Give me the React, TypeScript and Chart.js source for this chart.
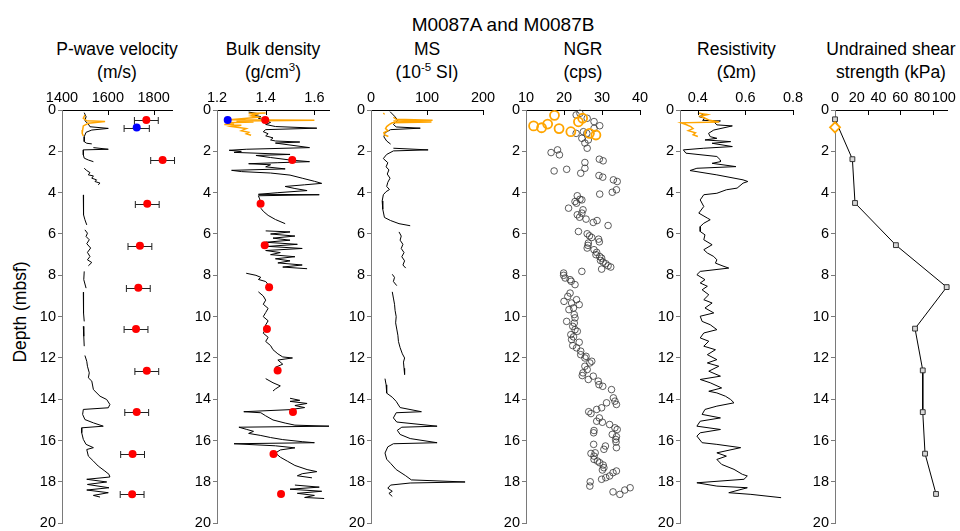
import React, { useEffect, useRef } from 'react';
import { Chart, registerables } from 'chart.js';
Chart.register(...registerables);

const FONT = '"Liberation Sans", Arial, Helvetica, sans-serif';
const ORANGE = '#FFA500';

// ---------- depth axis ----------
const depthTicks = [0, 2, 4, 6, 8, 10, 12, 14, 16, 18, 20];

// ---------- P-wave velocity ----------
const pwaveTicks = [1400, 1600, 1800];
const pwaveMarks = [1600, 1800];
const pwaveDepth = [0.13, 0.32, 0.52, 0.68, 0.81, 0.89, 0.97, 1.08, 1.29, 1.53, 1.61, 1.64, 1.7, 1.82, 1.9, 1.93, 2.17, 2.33, 2.42, 2.5, 2.6, 2.82, 2.93, 3.03, 3.14, 3.19, 3.3, 3.38, 3.46, 3.54, 3.62, 3.8, 4.11, 4.67, 5.07, 5.31, 5.56, 5.7, 5.8, 5.96, 6.12, 6.28, 6.47, 6.68, 6.89, 7.09, 7.25, 7.38, 7.54, 7.7, 7.81, 8.21, 8.62, 8.7, 8.82, 9.34, 9.82, 10.23, 10.35, 10.47, 10.95, 11.43, 11.6, 11.88, 12.16, 12.4, 12.72, 12.96, 13.12, 13.53, 13.85, 14.01, 14.25, 14.41, 14.49, 14.73, 14.98, 15.14, 15.3, 15.38, 15.62, 15.94, 16.18, 16.34, 16.43, 16.75, 16.99, 17.23, 17.47, 17.63, 17.76, 17.87, 18.0, 18.12, 18.28, 18.39, 18.52, 18.65, 18.73];
const pwaveLog = [1497, 1505, 1500, 1515, 1522, 1602, 1530, 1505, 1497, 1497, 1508, 1530, null, 1537, 1602, 1493, 1493, 1497, 1515, 1537, null, 1497, 1508, 1522, 1515, 1537, 1530, 1551, 1544, 1566, 1558, null, 1493, 1493, 1495, 1500, 1508, null, 1500, 1511, 1505, 1519, 1508, 1525, 1511, 1522, 1511, 1530, 1515, null, 1497, 1495, 1505, null, 1493, 1493, 1495, 1497, null, 1493, 1495, 1497, null, 1500, 1508, 1511, 1519, 1515, 1530, 1537, 1566, 1595, 1609, 1602, 1493, 1490, 1500, 1537, 1580, 1486, 1486, 1493, 1505, 1537, 1508, 1515, 1537, 1558, 1587, 1605, 1609, 1508, 1595, 1511, 1605, 1508, 1602, 1537, 1566];
const pwaveTopDepth = [0.24, 0.4, 0.52, 0.56, 0.64, 0.77, 0.97, 1.13, 1.26];
const pwaveTop = [1500, 1493, 1508, 1588, 1515, 1493, 1490, 1488, 1493];
const sampleDepthP = [0.48, 2.42, 4.54, 6.57, 8.6, 10.6, 12.62, 14.62, 16.65, 18.6];
const pwaveSample = [1768, 1839, 1772, 1740, 1733, 1723, 1770, 1726, 1708, 1706];
const pwaveSampleErr = [52, 52, 52, 52, 52, 52, 52, 52, 52, 52];
const pwaveBlueDepth = [0.85];
const pwaveBlue = [1726];
const pwaveBlueErr = [55];

// ---------- Bulk density ----------
const densTicks = [1.2, 1.4, 1.6];
const densMarks = [1.4, 1.6];
const densDepth = [0.1, 0.18, 0.25, 0.32, 0.4, 0.5, 0.6, 0.7, 0.8, 0.88, 0.95, 1.05, 1.15, 1.25, 1.35, 1.45, 1.5, 1.55, 1.6, 1.82, 1.9, 1.95, 2.0, 2.05, 2.15, 2.2, 2.3, 2.42, 2.5, 2.55, 2.6, 2.65, 2.75, 2.85, 2.92, 2.98, 3.05, 3.15, 3.3, 3.45, 3.55, 3.62, 3.7, 3.8, 3.9, 4.0, 4.08, 4.1, 4.15, 4.3, 4.5, 4.6, 4.75, 4.9, 5.1, 5.3, 5.5, 5.7, 5.85, 5.9, 6.0, 6.1, 6.2, 6.3, 6.4, 6.5, 6.6, 6.7, 6.8, 6.9, 7.0, 7.1, 7.2, 7.3, 7.4, 7.5, 7.6, 7.68, 7.8, 7.9, 8.0, 8.1, 8.2, 8.3, 8.45, 8.6, 8.7, 8.8, 9.0, 9.2, 9.4, 9.6, 9.8, 10.0, 10.2, 10.4, 10.6, 10.8, 11.0, 11.2, 11.4, 11.6, 11.8, 11.95, 12.0, 12.1, 12.3, 12.45, 12.6, 12.75, 12.9, 13.0, 13.2, 13.35, 13.5, 13.6, 13.8, 13.95, 14.05, 14.1, 14.2, 14.3, 14.4, 14.5, 14.6, 14.65, 14.8, 15.0, 15.15, 15.25, 15.3, 15.35, 15.45, 15.55, 15.65, 15.75, 15.85, 15.95, 16.05, 16.1, 16.15, 16.25, 16.35, 16.45, 16.6, 16.8, 17.0, 17.2, 17.4, 17.5, 17.6, 17.7, 17.8, 18.0, 18.15, 18.25, 18.35, 18.45, 18.55, 18.65, 18.75, 18.8];
const densLog = [1.33, 1.37, 1.35, 1.38, 1.37, 1.40, 1.42, 1.40, 1.44, 1.61, 1.40, 1.39, 1.41, 1.40, 1.43, 1.42, 1.44, 1.54, 1.44, 1.58, 1.32, 1.25, 1.30, 1.27, 1.50, 1.36, 1.42, 1.50, 1.58, 1.45, 1.33, 1.42, 1.40, 1.48, 1.26, 1.30, 1.42, 1.50, 1.55, 1.60, 1.63, 1.56, 1.48, 1.52, 1.57, 1.45, 1.37, 1.62, 1.37, 1.375, 1.38, null, 1.38, 1.39, 1.41, 1.44, 1.48, null, 1.40, 1.50, 1.42, 1.52, 1.43, 1.50, 1.40, 1.53, 1.41, 1.55, 1.40, 1.46, 1.42, 1.52, 1.44, 1.50, 1.45, 1.55, 1.47, 1.57, null, 1.32, 1.36, 1.38, 1.37, 1.40, 1.41, 1.42, null, 1.37, 1.39, 1.40, 1.39, 1.41, 1.40, 1.39, 1.41, 1.40, 1.40, 1.39, 1.41, 1.40, 1.42, 1.43, 1.45, 1.47, 1.51, 1.45, 1.47, 1.44, 1.46, 1.45, null, 1.40, 1.43, 1.46, 1.44, 1.43, null, 1.50, 1.54, 1.50, 1.57, 1.52, 1.56, 1.50, 1.31, 1.38, 1.40, 1.43, 1.48, 1.52, 1.66, 1.29, 1.32, 1.35, 1.33, 1.38, 1.42, 1.47, 1.55, 1.60, 1.27, 1.44, 1.52, 1.46, 1.44, 1.46, 1.49, 1.52, 1.57, 1.61, 1.55, 1.53, 1.59, null, 1.52, 1.62, 1.50, 1.63, 1.53, 1.60, 1.56, 1.64];
const densTopDepth = [0.15, 0.17, 0.22, 0.28, 0.35, 0.42, 0.47, 0.5, 0.53, 0.58, 0.62, 0.66, 0.7, 0.74, 0.8, 0.9, 1.0, 1.08, 1.15, 1.22];
const densTop = [1.40, 1.33, 1.36, 1.34, 1.37, 1.30, 1.25, 1.60, 1.28, 1.35, 1.24, 1.27, 1.23, 1.30, 1.26, 1.32, 1.30, 1.33, 1.32, 1.34];
const sampleDepthD = [0.48, 2.42, 4.54, 6.55, 8.58, 10.6, 12.6, 14.62, 16.65, 18.58];
const densSample = [1.398, 1.509, 1.379, 1.396, 1.414, 1.405, 1.449, 1.512, 1.432, 1.463];
const densBlueDepth = [0.48];
const densBlue = [1.244];

// ---------- MS ----------
const msTicks = [0, 100, 200];
const msMarks = [100, 200];
const msDepth = [0.08, 0.3, 0.5, 0.7, 0.82, 0.88, 0.95, 1.1, 1.3, 1.5, 1.65, 1.75, 1.85, 1.93, 1.98, 2.15, 2.35, 2.55, 2.75, 2.9, 3.1, 3.3, 3.5, 3.7, 3.85, 3.95, 4.1, 4.4, 4.8, 5.2, 5.35, 5.5, 5.6, 5.7, 5.9, 6.1, 6.3, 6.5, 6.7, 6.9, 7.1, 7.3, 7.5, 7.65, 7.75, 7.95, 8.1, 8.3, 8.5, 8.6, 8.8, 9.1, 9.4, 9.7, 10.0, 10.3, 10.6, 10.9, 11.2, 11.5, 11.8, 12.0, 12.2, 12.5, 12.8, 12.9, 13.0, 13.3, 13.7, 13.9, 14.1, 14.4, 14.6, 14.65, 14.9, 15.1, 15.3, 15.35, 15.5, 15.7, 15.9, 16.1, 16.15, 16.3, 16.6, 16.9, 17.1, 17.4, 17.7, 17.9, 18.0, 18.05, 18.15, 18.3, 18.45, 18.55, 18.7];
const msLog = [34, 42, 48, 40, 45, 88, 35, 25, 23, 28, 35, null, 40, 102, 40, 28, 22, 30, 27, 32, 29, 34, 30, 28, 33, 27, 22, 20, 21, 24, 35, 50, 70, null, 50, 54, 52, 57, 54, 59, 55, 60, 57, 62, null, 38, 42, 40, 46, null, 38, 40, 42, 43, 45, 44, 46, 48, 49, 52, 56, 60, 58, 59, 60, null, 25, 27, 28, 38, 45, 52, 90, 45, 40, 46, 118, 55, 47, 52, 70, 118, 40, 30, 25, 28, 35, 45, 62, 72, 168, 70, 35, 30, 38, 32, 38];
const msTopDepth = [0.15, 0.17, 0.25, 0.35, 0.45, 0.5, 0.53, 0.58, 0.62, 0.7, 0.8, 0.9, 1.0, 1.1, 1.2, 1.28];
const msTop = [22, 23, null, 40, 45, 110, 40, 108, 38, 33, 28, 26, 30, 23, 24, 31];

// ---------- NGR ----------
const ngrTicks = [10, 20, 30, 40];
const ngrMarks = [20, 30, 40];
const ngrDepth = [0.24, 0.16, 0.4, 0.56, 0.76, 1.13, 1.37, 1.13, 0.89, 1.05, 1.6, 1.85, 1.45, 2.06, 1.93, 2.17, 2.38, 2.46, 2.54, 2.82, 2.95, 2.87, 3.06, 3.17, 3.25, 3.38, 3.46, 3.86, 3.98, 4.07, 4.15, 4.32, 4.35, 4.43, 4.51, 4.75, 4.83, 4.99, 5.07, 5.19, 5.28, 5.44, 5.35, 5.59, 5.88, 5.99, 6.09, 6.17, 6.25, 6.38, 6.44, 6.55, 6.68, 6.76, 6.89, 7.0, 7.09, 7.17, 7.28, 7.36, 7.44, 7.54, 7.6, 7.7, 7.81, 7.89, 8.0, 8.13, 8.21, 8.29, 8.45, 8.86, 9.02, 9.26, 9.34, 9.18, 9.42, 9.58, 9.66, 9.9, 10.06, 10.23, 10.31, 10.47, 10.63, 10.71, 10.87, 10.98, 11.11, 11.24, 11.4, 11.51, 11.67, 11.84, 11.92, 12.0, 12.16, 12.24, 12.4, 12.56, 12.72, 12.85, 13.04, 12.88, 13.12, 13.29, 13.37, 13.53, 13.93, 14.17, 14.41, 14.49, 14.09, 14.25, 14.6, 14.69, 14.9, 15.06, 15.11, 15.22, 15.38, 15.46, 15.51, 15.62, 15.7, 15.81, 15.94, 16.07, 16.34, 16.26, 16.42, 16.18, 16.62, 16.59, 16.75, 16.91, 16.99, 17.07, 17.18, 17.31, 17.42, 17.71, 17.55, 17.47, 17.79, 17.87, 17.99, 18.2, 18.48, 18.6, 18.39, 18.28];
const ngrVal = [23.2, 24.2, 26.1, 27.9, 29.4, 23.2, 24.7, 26.0, 27.9, 25.1, 25.5, 26.1, 26.4, 16.6, 18.3, 18.8, 29.3, 30.3, 25.5, 25.5, 17.4, 20.7, 24.4, 29.2, 30.2, 33.0, 34.0, 33.8, 32.7, 29.4, 23.5, 24.2, 24.7, 22.9, 23.3, 21.2, 25.0, 24.7, 23.5, 24.1, 25.8, 27.7, 28.7, 31.6, 23.8, 26.1, 26.7, 27.3, 29.1, 29.3, 26.4, 26.3, 26.1, 27.9, 28.6, 28.4, 29.4, 29.9, 29.6, 30.3, 31.0, 31.6, 32.3, 29.9, 24.7, 19.9, 19.9, 20.3, 21.6, 21.9, 22.9, 21.6, 21.0, 20.0, 22.0, 23.3, 24.0, 22.5, 21.3, 22.7, 22.9, 20.7, 22.7, 22.3, 22.9, 23.5, 21.8, 22.5, 22.0, 24.0, 22.3, 23.3, 24.4, 24.4, 25.8, 25.5, 27.3, 26.8, 25.5, 26.1, 25.0, 24.8, 26.4, 27.7, 29.0, 29.2, 30.2, 32.5, 33.0, 31.2, 29.9, 28.6, 33.4, 33.8, 26.5, 27.1, 29.3, 28.6, 30.1, 32.0, 33.4, 34.0, 27.9, 27.8, 32.7, 33.8, 33.6, 33.7, 33.8, 30.9, 30.5, 27.8, 27.1, 28.2, 27.9, 27.9, 28.8, 29.4, 30.3, 30.5, 30.1, 32.0, 32.9, 33.8, 31.0, 29.9, 26.9, 26.8, 32.9, 34.7, 36.0, 37.4];
const ngrTopDepth = [0.77, 0.86, 0.68, 0.26, 0.9, 1.05, 0.57, 0.4, 1.13, 1.21];
const ngrTop = [12.0, 14.1, 15.7, 17.5, 18.7, 21.8, 23.8, 24.9, 26.7, 28.4];

// ---------- Resistivity ----------
const resTicks = [0.4, 0.6, 0.8];
const resMarks = [0.4, 0.6, 0.8];
const resDepth = [0.16, 0.24, 0.32, 0.4, 0.5, 0.53, 0.6, 0.72, 0.77, 0.97, 1.13, 1.29, 1.37, 1.45, 1.53, 1.61, 1.77, 1.85, 1.93, 2.09, 2.25, 2.42, 2.5, 2.58, 2.74, 2.82, 2.93, 3.14, 3.38, 3.46, 3.54, 3.78, 3.86, 4.03, 4.1, 4.35, 4.67, 4.99, 5.23, 5.31, 5.48, 5.64, 5.88, 6.04, 6.28, 6.52, 6.76, 6.92, 7.09, 7.25, 7.41, 7.57, 7.65, 7.81, 7.97, 8.21, 8.37, 8.53, 8.7, 8.94, 9.18, 9.34, 9.58, 9.82, 9.98, 10.23, 10.39, 10.63, 10.79, 11.03, 11.19, 11.43, 11.6, 11.84, 12.08, 12.24, 12.4, 12.64, 12.88, 13.04, 13.2, 13.45, 13.61, 13.69, 13.85, 14.01, 14.17, 14.33, 14.49, 14.73, 14.9, 15.06, 15.3, 15.46, 15.62, 15.78, 16.1, 16.18, 16.34, 16.59, 16.75, 16.91, 17.15, 17.39, 17.63, 17.71, 17.87, 18.04, 18.2, 18.28, 18.52, 18.6, 18.76];
const resLog = [0.41, 0.425, 0.405, 0.43, 0.42, 0.495, 0.47, 0.48, 0.545, 0.467, 0.445, 0.452, 0.48, 0.43, 0.538, 0.46, 0.545, 0.425, 0.339, 0.35, 0.48, 0.495, 0.495, 0.46, 0.56, 0.396, 0.367, 0.48, 0.59, 0.61, 0.59, 0.565, 0.52, 0.48, 0.425, 0.41, 0.425, 0.404, 0.44, 0.452, 0.425, 0.41, 0.41, 0.43, 0.425, 0.46, 0.425, 0.44, 0.467, 0.48, 0.474, 0.51, 0.53, 0.41, 0.396, 0.43, 0.41, 0.44, 0.418, 0.446, 0.425, 0.46, 0.43, 0.467, 0.41, 0.418, 0.452, 0.48, 0.425, 0.41, 0.446, 0.425, 0.474, 0.44, 0.48, 0.44, 0.488, 0.446, 0.495, 0.41, 0.452, 0.5, 0.446, 0.48, 0.516, 0.538, 0.552, 0.48, 0.43, 0.418, 0.495, 0.41, 0.396, 0.495, 0.41, 0.396, 0.418, 0.48, 0.58, 0.48, 0.52, 0.48, 0.5, 0.552, 0.587, 0.608, 0.594, 0.396, 0.48, 0.608, 0.53, 0.623, 0.75];
const resTopDepth = [0.15, 0.22, 0.3, 0.4, 0.5, 0.58, 0.62, 0.7, 0.8, 0.9, 1.0, 1.1, 1.2, 1.28];
const resTop = [0.40, 0.44, 0.41, 0.43, 0.45, 0.49, 0.33, 0.35, 0.37, 0.38, 0.36, 0.39, 0.38, 0.40];

// ---------- Undrained shear strength ----------
const shearTicks = [0, 20, 40, 60, 80, 100];
const shearMarks = [30, 60, 90];
const shearDepth = [0.45, 2.38, 4.5, 6.54, 8.57, 10.58, 12.6, 14.62, 16.63, 18.58];
const shearVal = [0, 16, 18.4, 56, 102.7, 73.6, 80.7, 80.7, 82.8, 92.9];
const shearTopDepth = [0.84];
const shearTop = [0];

// ---------- helpers ----------
const pts = (depth: number[], vals: (number | null)[]) =>
  depth.map((d, i) => ({ x: vals[i], y: vals[i] === null ? null : d }));

const lineDs = (depth: number[], vals: (number | null)[], color: string, width: number) => ({
  data: pts(depth, vals),
  showLine: true,
  borderColor: color,
  borderWidth: width,
  pointRadius: 0,
  spanGaps: false,
  clip: false,
});

const dotDs = (depth: number[], vals: number[], color: string, r: number, errX?: number[]) => ({
  data: pts(depth, vals),
  pointRadius: r,
  pointBackgroundColor: color,
  pointBorderWidth: 0,
  backgroundColor: color,
  borderColor: color,
  clip: false,
  errX,
});

const innerTicks = {
  id: 'innerTicks',
  afterDraw(chart: any, _a: any, opts: any) {
    const { ctx, chartArea } = chart;
    const xs = chart.scales.x;
    ctx.save();
    ctx.strokeStyle = '#000';
    ctx.lineWidth = 1;
    (opts.marks || []).forEach((v: number) => {
      const px = Math.round(xs.getPixelForValue(v)) + 0.5;
      ctx.beginPath();
      ctx.moveTo(px, chartArea.top);
      ctx.lineTo(px, chartArea.top + 5);
      ctx.stroke();
    });
    ctx.restore();
  },
};

const errorBars = {
  id: 'errorBars',
  beforeDatasetsDraw(chart: any) {
    const { ctx } = chart;
    const xs = chart.scales.x;
    ctx.save();
    ctx.strokeStyle = '#222';
    ctx.lineWidth = 1;
    chart.data.datasets.forEach((ds: any, i: number) => {
      if (!ds.errX) return;
      const meta = chart.getDatasetMeta(i);
      meta.data.forEach((el: any, j: number) => {
        const v = ds.data[j].x;
        const e = ds.errX[j];
        const x1 = xs.getPixelForValue(v - e);
        const x2 = xs.getPixelForValue(v + e);
        const y = Math.round(el.y) + 0.5;
        ctx.beginPath();
        ctx.moveTo(x1, y);
        ctx.lineTo(x2, y);
        ctx.moveTo(x1, y - 3.5);
        ctx.lineTo(x1, y + 3.5);
        ctx.moveTo(x2, y - 3.5);
        ctx.lineTo(x2, y + 3.5);
        ctx.stroke();
      });
    });
    ctx.restore();
  },
};

const TOP = 84;
const XH = 26;
const PLOT_H = 414;
const PADB = 10;
const YW = 40;
const PADR = 20;

type PanelCfg = {
  left: number;
  right: number;
  min: number;
  max: number;
  xTicks: number[];
  marks: number[];
  datasets: any[];
};

function Panel({ cfg }: { cfg: PanelCfg }) {
  const ref = useRef<HTMLCanvasElement>(null);
  const width = YW + (cfg.right - cfg.left) + PADR;
  const height = XH + PLOT_H + PADB;
  useEffect(() => {
    const tickFont = { family: FONT, size: 14.5 };
    const chart = new Chart(ref.current as HTMLCanvasElement, {
      type: 'scatter',
      data: { datasets: cfg.datasets },
      options: {
        animation: false,
        responsive: false,
        events: [],
        layout: { padding: { left: 0, right: PADR, top: 0, bottom: PADB } },
        plugins: {
          legend: { display: false },
          tooltip: { enabled: false },
          innerTicks: { marks: cfg.marks },
        } as any,
        scales: {
          x: {
            type: 'linear',
            position: 'top',
            min: cfg.min,
            max: cfg.max,
            afterBuildTicks: (s: any) => {
              s.ticks = cfg.xTicks.map((v) => ({ value: v }));
            },
            afterFit: (s: any) => {
              s.height = XH;
            },
            grid: { display: true, drawOnChartArea: false, drawTicks: false },
            border: { display: true, color: '#000', width: 1 },
            ticks: {
              font: tickFont,
              color: '#000',
              padding: 3,
              autoSkip: false,
              maxRotation: 0,
              minRotation: 0,
              callback: (v: any) => String(v),
            },
          },
          y: {
            type: 'linear',
            position: 'left',
            min: 0,
            max: 20,
            reverse: true,
            afterBuildTicks: (s: any) => {
              s.ticks = depthTicks.map((v) => ({ value: v }));
            },
            afterFit: (s: any) => {
              s.width = YW;
            },
            grid: { display: true, drawOnChartArea: false, drawTicks: true, tickLength: 4, color: '#7a7a7a' },
            border: { display: true, color: '#7a7a7a', width: 1 },
            ticks: {
              font: tickFont,
              color: '#000',
              padding: 2,
              autoSkip: false,
              callback: (v: any) => String(v),
            },
          },
        },
      } as any,
      plugins: [innerTicks, errorBars],
    });
    return () => chart.destroy();
  }, []);
  return (
    <canvas
      ref={ref}
      width={width}
      height={height}
      style={{ position: 'absolute', left: cfg.left - YW, top: TOP, width, height }}
    />
  );
}

const panels: PanelCfg[] = [
  {
    left: 62, right: 172, min: 1400, max: 1880, xTicks: pwaveTicks, marks: pwaveMarks,
    datasets: [
      dotDs(sampleDepthP, pwaveSample, '#FF0000', 4, pwaveSampleErr),
      dotDs(pwaveBlueDepth, pwaveBlue, '#0000FF', 4, pwaveBlueErr),
      lineDs(pwaveTopDepth, pwaveTop, ORANGE, 1.5),
      lineDs(pwaveDepth, pwaveLog, '#000', 1),
    ],
  },
  {
    left: 217, right: 329, min: 1.2, max: 1.66, xTicks: densTicks, marks: densMarks,
    datasets: [
      dotDs(sampleDepthD, densSample, '#FF0000', 4),
      dotDs(densBlueDepth, densBlue, '#0000FF', 4),
      lineDs(densTopDepth, densTop, ORANGE, 1.5),
      lineDs(densDepth, densLog, '#000', 1),
    ],
  },
  {
    left: 371, right: 483, min: 0, max: 200, xTicks: msTicks, marks: msMarks,
    datasets: [
      lineDs(msTopDepth, msTop, ORANGE, 1.5),
      lineDs(msDepth, msLog, '#000', 1),
    ],
  },
  {
    left: 526, right: 640, min: 10, max: 40, xTicks: ngrTicks, marks: ngrMarks,
    datasets: [
      {
        data: pts(ngrTopDepth, ngrTop),
        pointRadius: 4.5,
        pointBorderWidth: 1.8,
        pointBorderColor: ORANGE,
        pointBackgroundColor: 'rgba(0,0,0,0)',
        borderColor: ORANGE,
        clip: false,
      },
      {
        data: pts(ngrDepth, ngrVal),
        pointRadius: 3.3,
        pointBorderWidth: 0.8,
        pointBorderColor: '#333',
        pointBackgroundColor: 'rgba(0,0,0,0)',
        borderColor: '#333',
        clip: false,
      },
    ],
  },
  {
    left: 680, right: 793, min: 0.325, max: 0.8, xTicks: resTicks, marks: resMarks,
    datasets: [
      lineDs(resTopDepth, resTop, ORANGE, 1.5),
      lineDs(resDepth, resLog, '#000', 1),
    ],
  },
  {
    left: 835, right: 947, min: 0, max: 103, xTicks: shearTicks, marks: shearMarks,
    datasets: [
      {
        data: pts(shearTopDepth, shearTop),
        pointStyle: 'rectRot',
        pointRadius: 5,
        pointBorderWidth: 1.8,
        pointBorderColor: ORANGE,
        pointBackgroundColor: '#fff',
        clip: false,
      },
      {
        data: pts(shearDepth, shearVal),
        showLine: true,
        borderColor: '#000',
        borderWidth: 1,
        pointStyle: 'rect',
        pointRadius: 3.4,
        pointBorderWidth: 1,
        pointBorderColor: '#333',
        pointBackgroundColor: '#d8d8d8',
        clip: false,
      },
    ],
  },
];

const titleStyle: React.CSSProperties = {
  position: 'absolute',
  top: 38,
  width: 200,
  textAlign: 'center',
  fontFamily: FONT,
  fontSize: 17.5,
  lineHeight: '23px',
  color: '#000',
  whiteSpace: 'nowrap',
};

const sup: React.CSSProperties = { fontSize: 11.5, position: 'relative', top: -7 };

const titles: { cx: number; l1: React.ReactNode; l2: React.ReactNode }[] = [
  { cx: 117, l1: 'P-wave velocity', l2: '(m/s)' },
  { cx: 273, l1: 'Bulk density', l2: <>(g/cm<span style={sup}>3</span>)</> },
  { cx: 427, l1: 'MS', l2: <>(10<span style={sup}>-5</span> SI)</> },
  { cx: 583, l1: 'NGR', l2: '(cps)' },
  { cx: 736.5, l1: 'Resistivity', l2: '(Ωm)' },
  { cx: 891, l1: 'Undrained shear', l2: 'strength (kPa)' },
];

export default function App() {
  return (
    <div
      style={{
        position: 'absolute',
        left: 0,
        top: 0,
        width: 960,
        height: 531,
        overflow: 'hidden',
        background: '#fff',
      }}
    >
      <div
        style={{
          position: 'absolute',
          top: 14,
          left: 503 - 200,
          width: 400,
          textAlign: 'center',
          fontFamily: FONT,
          fontSize: 19,
          lineHeight: '22px',
          color: '#000',
        }}
      >
        M0087A and M0087B
      </div>
      {titles.map((t, i) => (
        <div key={i} style={{ ...titleStyle, left: t.cx - 100 }}>
          <div>{t.l1}</div>
          <div>{t.l2}</div>
        </div>
      ))}
      <div
        style={{
          position: 'absolute',
          left: 20,
          top: 312,
          transform: 'translate(-50%, -50%) rotate(-90deg)',
          fontFamily: FONT,
          fontSize: 17.5,
          lineHeight: '20px',
          whiteSpace: 'nowrap',
          color: '#000',
        }}
      >
        Depth (mbsf)
      </div>
      {panels.map((p, i) => (
        <Panel key={i} cfg={p} />
      ))}
    </div>
  );
}
